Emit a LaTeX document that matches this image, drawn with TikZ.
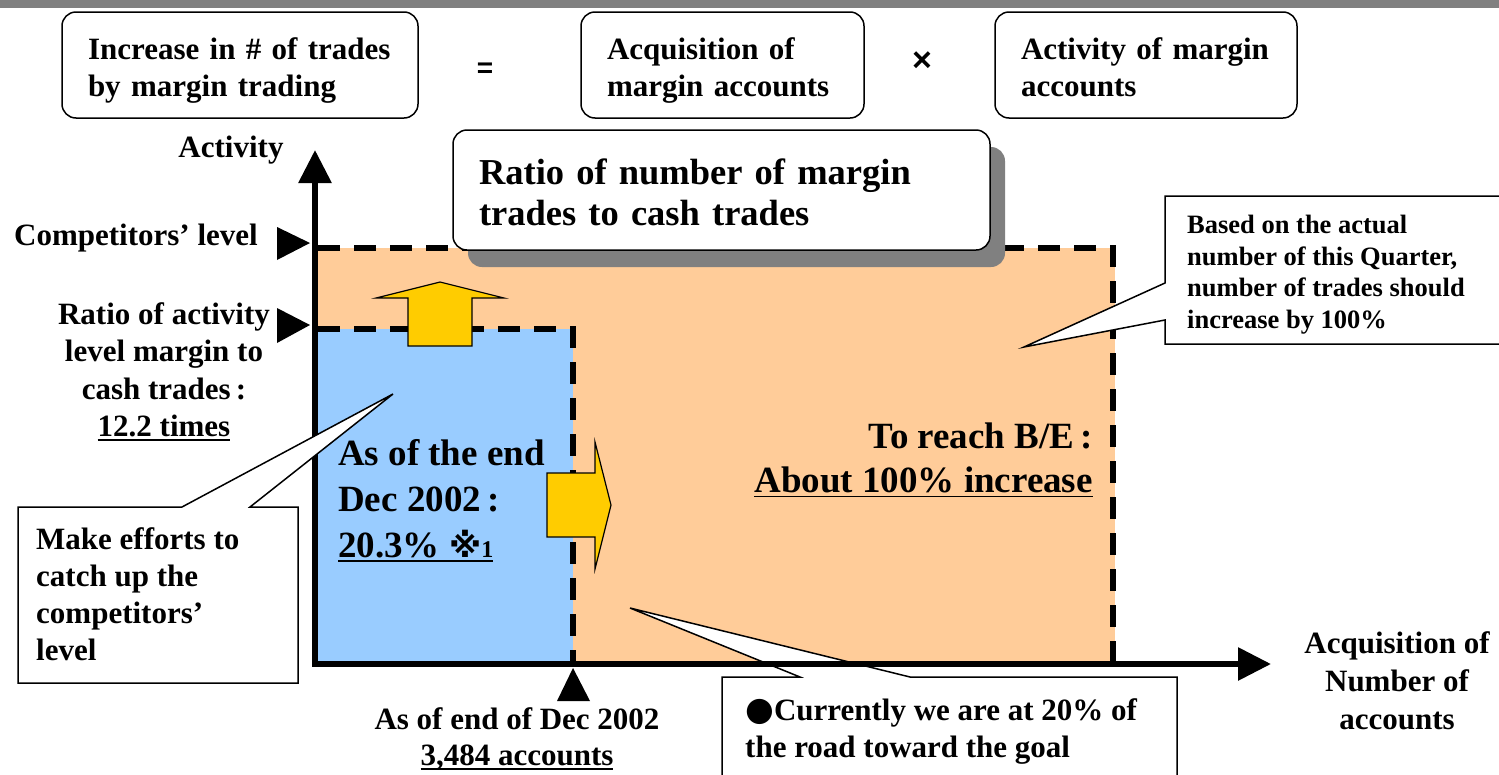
\documentclass[tikz,border=0pt]{standalone}
\usepackage{fontspec}
\setmainfont{Liberation Serif}
\newfontfamily\symfont{DejaVu Sans}
\newfontfamily\opfont{Liberation Sans}
\usetikzlibrary{arrows.meta,shadows}

\definecolor{peach}{RGB}{255,204,153}
\definecolor{sky}{RGB}{153,204,255}
\definecolor{gold}{RGB}{255,204,0}
\definecolor{bargray}{RGB}{128,128,128}

\newcommand{\midfont}{\fontsize{31}{37}\selectfont\bfseries}
\newcommand{\bigfont}{\fontsize{36.5}{41}\selectfont\bfseries}
\newcommand{\smallfont}{\fontsize{26.5}{31.5}\selectfont\bfseries}
\newsavebox\ulbox
\newcommand{\lineunder}[1]{\sbox\ulbox{#1}\rlap{\rule[-4.5pt]{\wd\ulbox}{1.7pt}}\usebox\ulbox}

\tikzset{
  factor/.style={draw, line width=1.5pt, rounded corners=14pt, fill=white,
    align=left, inner xsep=26pt, minimum height=106pt, font=\midfont,
    text height=22pt, text depth=33pt},
  callout/.style={draw, line width=1.5pt, fill=white},
  levelline/.style={line width=6pt, dash pattern=on 22pt off 14pt},
  blockarrow/.style={draw, line width=1.2pt, fill=gold},
  axis/.style={line width=6pt,
    {Triangle[length=33pt,width=32pt]}-{Triangle[length=33pt,width=32pt]}},
  tag/.style={inner sep=0pt, font=\midfont},
  operator/.style={inner sep=0pt, font=\opfont\bfseries\fontsize{28}{28}\selectfont},
}

\begin{document}
\begin{tikzpicture}[x=1pt, y=-1pt]
  \useasboundingbox (0,0) rectangle (1499,774);
  \fill[bargray] (0,0) rectangle (1499,8);

  % equation row
  \node[factor, minimum width=356pt, text width=304pt] (increase) at (240,65)
    {Increase in \# of trades\\by margin trading};
  \node[operator] (equals) at (485,70) {=};
  \node[factor, minimum width=283pt, text width=231pt] (acquisition) at (722.5,65)
    {Acquisition of\\margin accounts};
  \node[operator, font=\opfont\bfseries\fontsize{34}{34}\selectfont] (times) at (922,62) {×};
  \node[factor, minimum width=302pt, text width=250pt] (marginact) at (1146,65)
    {Activity of margin\\accounts};

  % areas
  \fill[peach] (318,248) rectangle (1115,664);
  \fill[sky] (318,329) rectangle (573,664);
  \draw[levelline] (318,248) -- (1113,248) -- (1113,664);
  \draw[levelline] (318,329) -- (573,329) -- (573,664);

  \node[draw, line width=1.5pt, rounded corners=14pt, fill=white,
    drop shadow={shadow xshift=15pt, shadow yshift=-17pt, fill=bargray, opacity=1},
    minimum width=537pt, minimum height=120pt, text width=485pt, inner xsep=26pt,
    text height=27pt, text depth=39pt, align=left, font=\bigfont] (ratio) at (721.5,190)
    {Ratio of number of margin\\trades to cash trades};

  % block arrows
  \draw[blockarrow] (408,346) -- (408,298) -- (376,298) -- (440,282)
    -- (504,298) -- (472,298) -- (472,346) -- cycle;
  \draw[blockarrow] (547,473) -- (595,473) -- (595,442) -- (611,505)
    -- (595,569) -- (595,537) -- (547,537) -- cycle;

  \draw[callout] (722,677) -- (800,677) -- (630,608) -- (910,677)
    -- (1177,677) -- (1177,790) -- (722,790) -- cycle;

  % axes
  \coordinate (origin) at (315,664);
  \coordinate (ytop) at (315,150);
  \coordinate (xend) at (1271,664);
  \draw[axis] (ytop) -- (origin) -- (xend);

  \fill (277,227) -- (310,243) -- (277,260) -- cycle;
  \fill (277,308) -- (310,325) -- (277,343) -- cycle;
  \fill (557,701) -- (573,668) -- (590,701) -- cycle;

  \draw[callout] (18,507) -- (182,507) -- (393,394) -- (250,507)
    -- (298,507) -- (298,683) -- (18,683) -- cycle;
  \draw[callout] (1165,196) -- (1510,196) -- (1510,344) -- (1165,344)
    -- (1165,320) -- (1024,347) -- (1165,283) -- cycle;

  % labels
  \node[tag, anchor=base] (activitylabel) at (231,157) {Activity};
  \node[tag, anchor=base east] (competitors) at (258,245) {Competitors' level};
  \node[tag, anchor=north, align=center, font=\fontsize{31}{37.5}\selectfont\bfseries] (ratiolevel) at (164,302)
    {Ratio of activity\\level margin to\\cash trades\,:\\\lineunder{12.2 times}};
  \node[tag, anchor=north west, align=left] (efforts) at (36,527)
    {Make efforts to\\catch up the\\competitors'\\level};
  \node[tag, anchor=north west, font=\smallfont, align=left] (quarter) at (1187,215)
    {Based on the actual\\number of this Quarter,\\number of trades should\\increase by 100\%};
  \node[tag, anchor=north west, align=left, font=\fontsize{37}{46}\selectfont\bfseries] (current) at (338,439)
    {As of the end\\Dec 2002\,:\\\lineunder{20.3\% {\symfont\fontsize{33}{33}\selectfont ※}{\fontsize{24}{24}\selectfont 1}}};
  \node[tag, anchor=north east, align=right, font=\fontsize{37}{44}\selectfont\bfseries] (breakeven) at (1093,423)
    {To reach B/E\,:\\\lineunder{About 100\% increase}};
  \node[tag, anchor=north, align=center, font=\fontsize{31}{36}\selectfont\bfseries] (dec2002) at (517,707)
    {As of end of Dec 2002\\\lineunder{3,484 accounts}};
  \node[tag, anchor=north west, align=left] (road) at (745,698)
    {{\symfont\fontsize{33}{33}\selectfont ●}Currently we are at 20\% of\\the road toward the goal};
  \node[tag, anchor=north, align=center, font=\fontsize{31}{38}\selectfont\bfseries] (acqlabel) at (1397,631)
    {Acquisition of\\Number of\\accounts};
\end{tikzpicture}
\end{document}
